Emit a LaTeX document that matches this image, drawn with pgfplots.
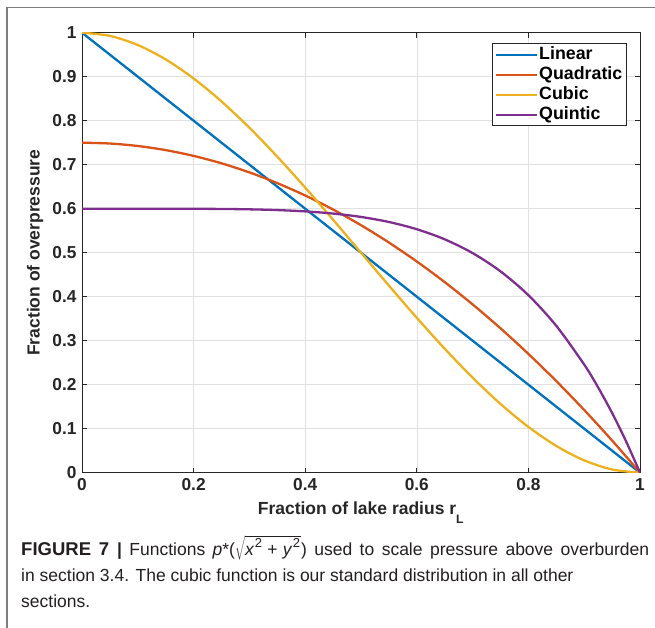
\documentclass[border=0pt]{standalone}
\usepackage{pgfplots}
\pgfplotsset{compat=1.18}
\usepackage{fontspec}
\setmainfont{Liberation Sans}
\definecolor{mblue}{RGB}{0,114,189}
\definecolor{morange}{RGB}{217,83,25}
\definecolor{myellow}{RGB}{237,177,32}
\definecolor{mpurple}{RGB}{126,47,142}
\definecolor{axgray}{RGB}{38,38,38}
\definecolor{gridgray}{RGB}{225,225,225}
\definecolor{framegray}{RGB}{125,125,125}
\definecolor{captext}{RGB}{35,31,32}
\newcommand{\sq}{\raisebox{0.5em}{\fontsize{13}{13}\selectfont 2}}
\begin{document}
\begin{tikzpicture}[x=1pt,y=1pt]
\path[use as bounding box] (0,0) rectangle (655,628);
\draw[framegray, line width=1.4pt] (7,0) -- (7,620.5) -- (655,620.5);
\begin{axis}[
  at={(82pt,155.3pt)}, anchor=south west,
  scale only axis, width=558pt, height=440pt,
  xmin=0, xmax=1, ymin=0, ymax=1,
  xtick={0,0.2,0.4,0.6,0.8,1},
  ytick={0,0.1,0.2,0.3,0.4,0.5,0.6,0.7,0.8,0.9,1},
  xticklabels={0,0.2,0.4,0.6,0.8,1},
  yticklabels={0,0.1,0.2,0.3,0.4,0.5,0.6,0.7,0.8,0.9,1},
  tick align=inside, tick pos=both,
  major tick length=5pt,
  grid=major,
  major grid style={gridgray, line width=0.6pt},
  axis line style={axgray, line width=0.8pt},
  tick style={axgray, line width=0.8pt},
  ticklabel style={font=\bfseries\fontsize{17.3}{17}\selectfont, text=axgray},
  xticklabel style={yshift=-2pt},
  yticklabel style={xshift=-2pt},
  xlabel={Fraction of lake radius r\textsubscript{\raisebox{-1.1ex}{L}}},
  ylabel={Fraction of overpressure},
  label style={font=\bfseries\fontsize{17.5}{17}\selectfont, text=axgray},
  xlabel style={at={(axis description cs:0.5,-0.0939)}, anchor=base},
  ylabel style={at={(axis description cs:-0.0842,0.5)}, anchor=center},
  legend style={at={(axis description cs:1,1)}, anchor=north east, xshift=-13.3pt, yshift=-10.6pt,
    draw=axgray, line width=0.8pt, font=\bfseries\fontsize{17.8}{17}\selectfont,
    inner xsep=2.5pt, inner ysep=1pt, row sep=0pt,
    nodes={inner xsep=1.5pt, inner ysep=2pt, text height=12.5pt, text depth=3.5pt}},
  legend cell align=left,
  legend image code/.code={\draw[#1] (0pt,0pt) -- (41pt,0pt);},
  every axis plot/.append style={line width=2.3pt, smooth, tension=0.5},
]
\addplot[mblue] coordinates {(0,1) (1,0)};
\addlegendentry{Linear}
\addplot[morange] coordinates {
(0,0.75) (0.05,0.748125) (0.1,0.7425) (0.15,0.733125) (0.2,0.72) (0.25,0.703125)
(0.3,0.6825) (0.35,0.658125) (0.4,0.63) (0.45,0.598125) (0.5,0.5625) (0.55,0.523125)
(0.6,0.48) (0.65,0.433125) (0.7,0.3825) (0.75,0.328125) (0.8,0.27) (0.85,0.208125)
(0.9,0.1425) (0.95,0.073125) (1,0)};
\addlegendentry{Quadratic}
\addplot[myellow] coordinates {
(0,1) (0.05,0.99275) (0.1,0.972) (0.15,0.93925) (0.2,0.896) (0.25,0.84375)
(0.3,0.784) (0.35,0.71825) (0.4,0.648) (0.45,0.57475) (0.5,0.5) (0.55,0.42525)
(0.6,0.352) (0.65,0.28175) (0.7,0.216) (0.75,0.15625) (0.8,0.104) (0.85,0.06075)
(0.9,0.028) (0.95,0.00725) (1,0)};
\addlegendentry{Cubic}
\addplot[mpurple] coordinates {
(0,0.6) (0.05,0.6) (0.1,0.599994) (0.15,0.599954) (0.2,0.599808) (0.25,0.599414)
(0.3,0.598542) (0.35,0.59685) (0.4,0.593856) (0.45,0.58893) (0.5,0.58125) (0.55,0.5698)
(0.6,0.553344) (0.65,0.53038) (0.7,0.499158) (0.75,0.45762) (0.8,0.403392) (0.85,0.333774)
(0.9,0.245706) (0.925,0.193688) (0.95,0.135732) (0.975,0.071342) (1,0)};
\addlegendentry{Quintic}
\end{axis}
\node[anchor=base west, inner sep=0pt, text=captext, font=\fontsize{17.5}{26}\selectfont, align=left] at (21,20)
{\makebox[628pt][s]{{\bfseries\fontsize{18.5}{26}\selectfont FIGURE 7 }{\bfseries |} Functions \textit{p}*($\sqrt{\mbox{\textit{x}\kern0.5pt\sq\hspace{0.3em}+\hspace{0.3em}\textit{y}\kern0.5pt\sq\kern1pt}}$) used to scale pressure above overburden}\\
in section 3.4. The cubic function is our standard distribution in all other\\
sections.};
\end{tikzpicture}
\end{document}
